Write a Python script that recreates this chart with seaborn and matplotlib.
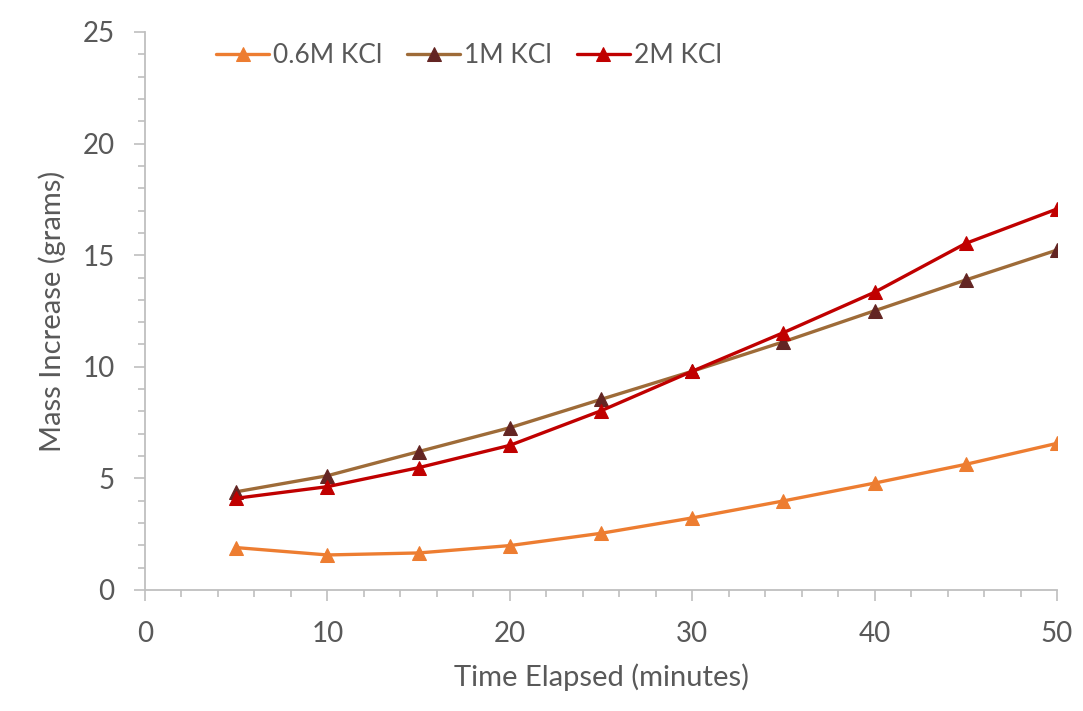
import matplotlib
matplotlib.use("Agg")
import matplotlib.pyplot as plt
from matplotlib.ticker import MultipleLocator
import pandas as pd
import seaborn as sns

# Data
minutes = [5, 10, 15, 20, 25, 30, 35, 40, 45, 50]
kcl_06 = [1.90, 1.57, 1.66, 1.99, 2.54, 3.23, 3.99, 4.79, 5.63, 6.57]
kcl_1 = [4.40, 5.12, 6.20, 7.27, 8.54, 9.80, 11.12, 12.51, 13.89, 15.23]
kcl_2 = [4.11, 4.63, 5.48, 6.48, 8.03, 9.80, 11.53, 13.34, 15.53, 17.07]
series_names = ["0.6M KCl", "1M KCl", "2M KCl"]

sns.set_theme(style="white")
plt.rcParams["font.family"] = ["Lato", "DejaVu Sans"]

text_color = "#595959"
axis_color = "#BFBFBF"

fig = plt.figure(figsize=(10.83, 7.11), dpi=100)
ax = fig.add_axes([145 / 1083, 1 - 590 / 711, (1057 - 145) / 1083, (590 - 32) / 711])

styles = [
    ("#ED7D31", "#ED7D31"),
    ("#9E6B38", "#632523"),
    ("#C00000", "#C00000"),
]
for name, values, (line_c, mark_c) in zip(series_names, [kcl_06, kcl_1, kcl_2], styles):
    df = pd.DataFrame({"minutes": minutes, "mass": values})
    sns.lineplot(data=df, x="minutes", y="mass", ax=ax, color=line_c, linewidth=2.4,
                 marker="^", markersize=9.5, markerfacecolor=mark_c,
                 markeredgecolor=mark_c, label=name)

ax.set_xlim(0, 50)
ax.set_ylim(0, 25)
ax.xaxis.set_major_locator(MultipleLocator(10))
ax.xaxis.set_minor_locator(MultipleLocator(2))
ax.yaxis.set_major_locator(MultipleLocator(5))
ax.yaxis.set_minor_locator(MultipleLocator(1))

for side in ["top", "right"]:
    ax.spines[side].set_visible(False)
for side in ["left", "bottom"]:
    ax.spines[side].set_color(axis_color)
    ax.spines[side].set_linewidth(1.3)

ax.tick_params(axis="both", which="major", direction="out", length=8, width=1.2,
               color=axis_color, labelsize=20, labelcolor=text_color)
ax.tick_params(axis="both", which="minor", direction="out", length=5, width=1.2,
               color=axis_color)
ax.tick_params(axis="x", which="both", bottom=True, pad=14)
ax.tick_params(axis="y", which="both", left=True, pad=14)

ax.set_xlabel("Time Elapsed (minutes)", fontsize=21, color=text_color, labelpad=12)
ax.set_ylabel("Mass Increase (grams)", fontsize=21, color=text_color, labelpad=12)

leg = ax.legend(loc="upper left", bbox_to_anchor=(0.052, 1.022), ncol=3, frameon=False,
                fontsize=19, handlelength=2.0, columnspacing=0.95, handletextpad=0.15)
for t in leg.get_texts():
    t.set_color(text_color)

fig.savefig("out.png", dpi=100)
